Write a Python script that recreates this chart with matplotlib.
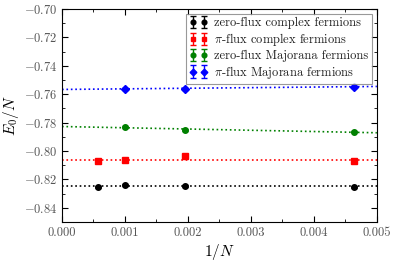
import numpy as np
import matplotlib
matplotlib.use("Agg")
import matplotlib.pyplot as plt
from matplotlib.ticker import MultipleLocator

plt.rcParams.update({
    "font.family": "serif",
    "font.serif": ["cmr10"],
    "mathtext.fontset": "cm",
    "axes.formatter.use_mathtext": True,
    "font.size": 9,
})

# 1/N values, N = 1728, 1000, 512, 216
N_all = np.array([1728, 1000, 512, 216])
N_maj = np.array([1000, 512, 216])

e_zero_complex = [-0.8253, -0.8239, -0.8248, -0.8253]
e_pi_complex = [-0.8073, -0.8066, -0.8036, -0.8071]
e_zero_major = [-0.7830, -0.7853, -0.7863]
e_pi_major = [-0.7561, -0.7561, -0.7547]
err_complex = [0.0010, 0.0006, 0.0006, 0.0006]
err_major = [0.0006, 0.0006, 0.0006]

# linear fits E0/N = a + b/N
fit_a = [-0.8246, -0.8062, -0.7827, -0.7566]
fit_b = [0.0, 0.0, -0.88, 0.42]

labels = ["zero-flux complex fermions", r"$\pi$-flux complex fermions",
          "zero-flux Majorana fermions", r"$\pi$-flux Majorana fermions"]
colors = ["black", "red", "#008000", "blue"]
markers = ["o", "s", "o", "D"]

fig = plt.figure(figsize=(3.95, 2.66), dpi=100)
ax = fig.add_axes([0.157, 0.165, 0.797, 0.801])

xs = [1 / N_all, 1 / N_all, 1 / N_maj, 1 / N_maj]
ys = [e_zero_complex, e_pi_complex, e_zero_major, e_pi_major]
errs = [err_complex, err_complex, err_major, err_major]
xl = np.array([0.0, 0.005])
for i in range(4):
    ax.plot(xl, fit_a[i] + fit_b[i] * xl, ":", color=colors[i], lw=1.2)
    ax.errorbar(xs[i], ys[i], yerr=errs[i], fmt=markers[i], color=colors[i],
                ms=4, capsize=2, elinewidth=1, label=labels[i])

ax.set_xlim(0, 0.005)
ax.set_ylim(-0.85, -0.70)
ax.xaxis.set_major_locator(MultipleLocator(0.001))
ax.xaxis.set_minor_locator(MultipleLocator(0.0005))
ax.yaxis.set_major_locator(MultipleLocator(0.02))
ax.yaxis.set_minor_locator(MultipleLocator(0.01))
ax.xaxis.set_major_formatter(matplotlib.ticker.FormatStrFormatter("%.3f"))
ax.yaxis.set_major_formatter(matplotlib.ticker.FuncFormatter(
    lambda v, p: ("$-$" if v < 0 else "") + "%.2f" % abs(v)))
ax.tick_params(which="both", direction="in", top=True, right=True)
ax.tick_params(which="major", length=4, labelsize=9, labelcolor="#555555")
ax.tick_params(which="minor", length=2)
ax.set_xlabel(r"$1/N$", fontsize=11, labelpad=2)
ax.set_ylabel(r"$E_0/N$", fontsize=11, labelpad=2)

leg = ax.legend(loc="upper right", numpoints=2, fontsize=9.0, fancybox=False,
                edgecolor="gray", handlelength=1.5, borderpad=0.25,
                labelspacing=0.15, handletextpad=0.5, borderaxespad=0.4,
                markerscale=0.85)
leg.get_frame().set_linewidth(0.8)
for t in leg.get_texts():
    t.set_color("#222222")

fig.savefig("out.png", dpi=100)
